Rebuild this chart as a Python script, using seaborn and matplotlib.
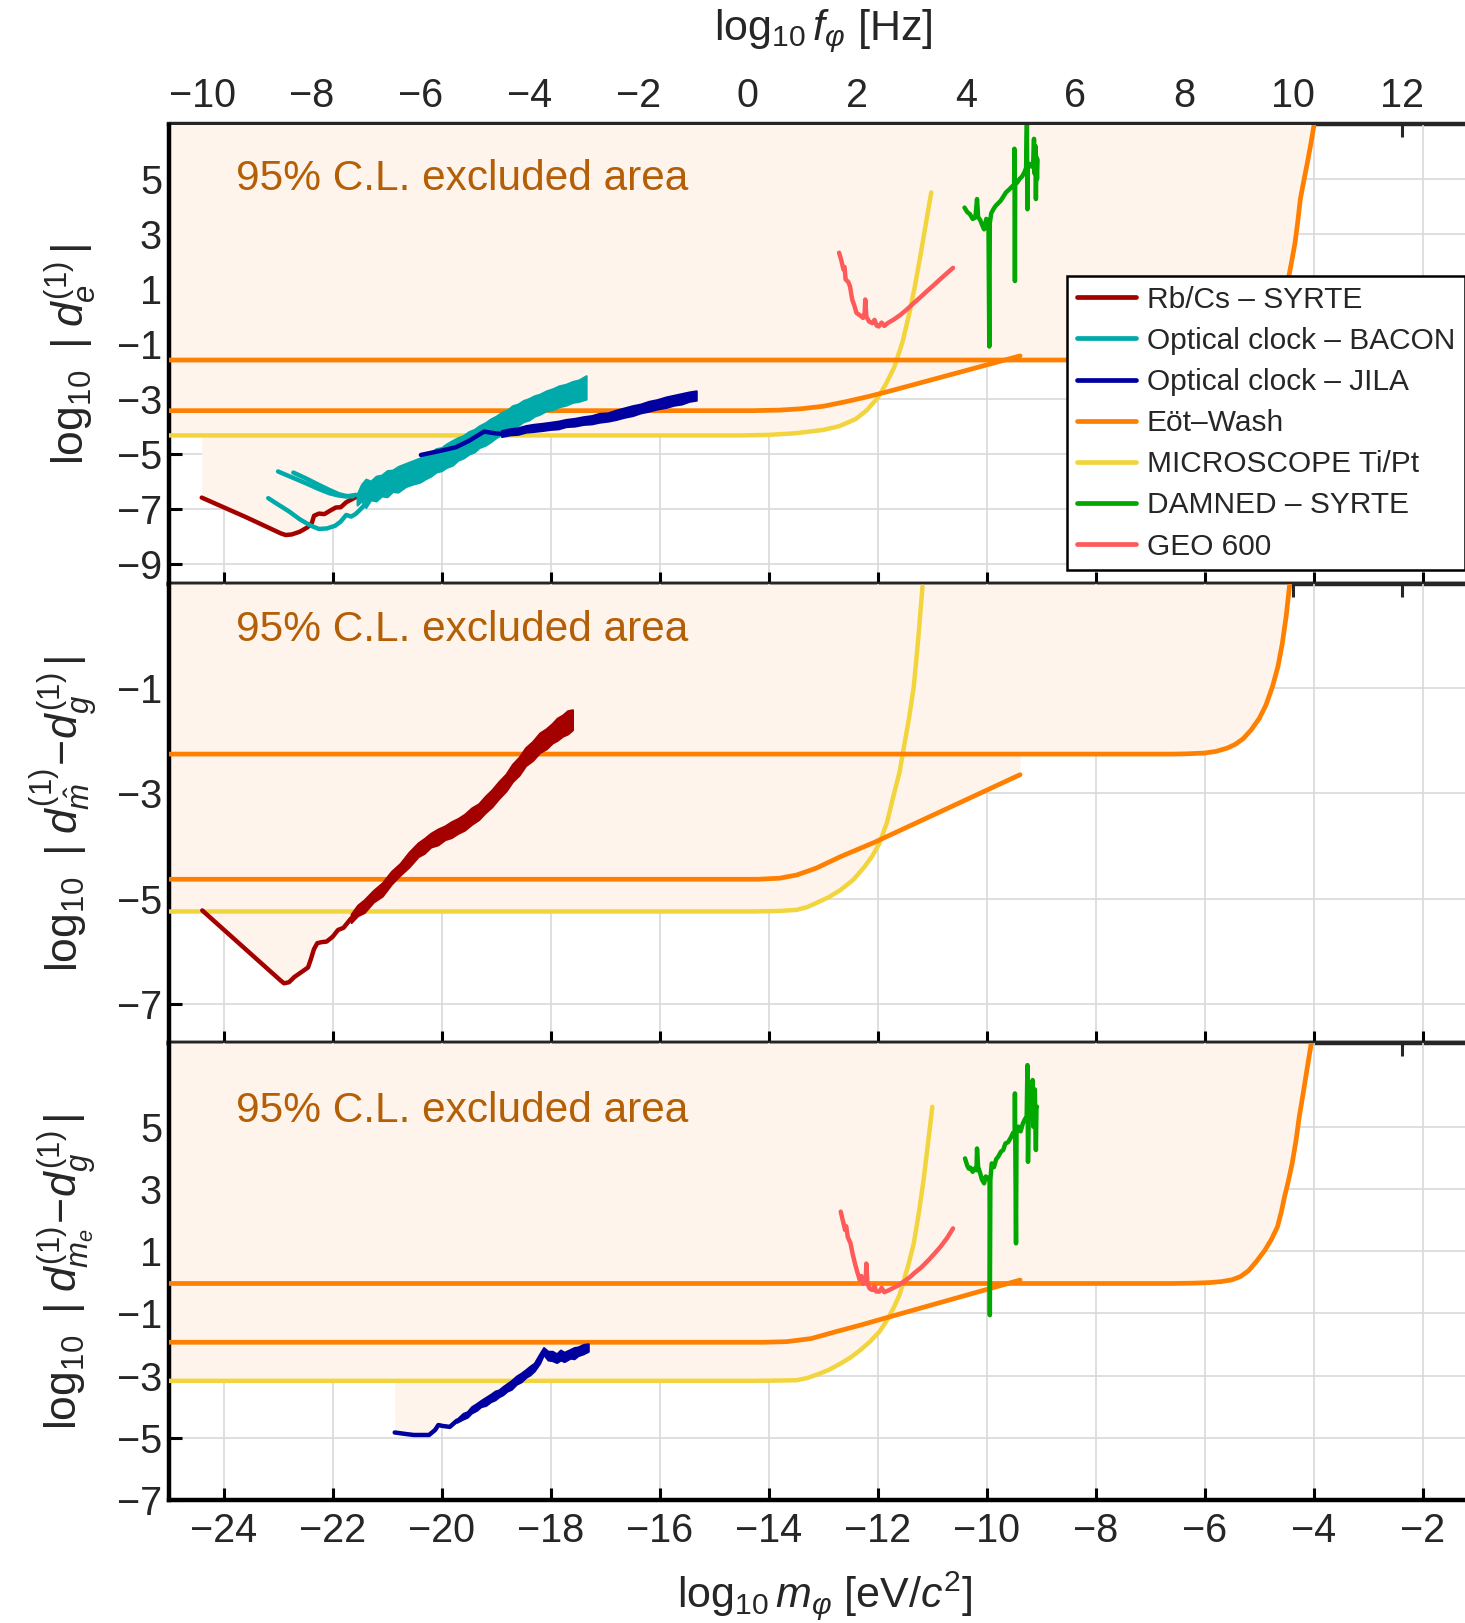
import numpy as np
import matplotlib
matplotlib.use("Agg")
import matplotlib.pyplot as plt
import seaborn as sns
from matplotlib.lines import Line2D

# ---------------------------------------------------------------------------
# Bounds on scalar dark-matter couplings: log10 |coupling| vs log10 mass [eV]
# ---------------------------------------------------------------------------

# ---- panel 1 : d_e ----
m_rbcs_e = [-24.40, -23.60, -22.95, -22.86, -22.75, -22.60, -22.46, -22.38, -22.34,
            -22.25, -22.15, -22.05, -21.94, -21.85, -21.75, -21.57, -21.39, -21.20,
            -21.08, -20.80, -20.50, -20.20]
d_rbcs_e = [-6.58, -7.28, -7.88, -7.94, -7.92, -7.82, -7.66, -7.50, -7.24,
            -7.16, -7.18, -7.06, -6.94, -6.93, -6.75, -6.56, -6.43, -6.20,
            -5.85, -5.70, -5.45, -5.25]

m_bacon_a = [-23.18, -23.00, -22.80, -22.60, -22.40, -22.25, -22.10, -21.95, -21.85,
             -21.75, -21.66, -21.58, -21.50, -21.39]
d_bacon_a = [-6.60, -6.83, -7.08, -7.37, -7.60, -7.72, -7.70, -7.60, -7.45,
             -7.21, -7.27, -7.18, -7.03, -6.80]
m_bacon_b = [-23.00, -22.75, -22.50, -22.25, -22.06, -21.90, -21.75, -21.57]
d_bacon_b = [-5.63, -5.84, -6.05, -6.27, -6.42, -6.50, -6.54, -6.48]
m_bacon_c = [-22.72, -22.50, -22.26, -22.05, -21.88, -21.75, -21.63]
d_bacon_c = [-5.67, -5.87, -6.11, -6.31, -6.46, -6.52, -6.54]
m_bacon_band = [-21.55, -21.47, -21.39, -21.30, -21.20, -21.10, -21.00, -20.90, -20.80,
                -20.66, -20.53, -20.40, -20.30, -20.20, -20.10, -20.00, -19.92, -19.80,
                -19.70, -19.60, -19.50, -19.40, -19.31, -19.20, -19.10, -19.00, -18.90,
                -18.80, -18.70, -18.60, -18.50, -18.40, -18.30, -18.20, -18.08, -17.96,
                -17.85, -17.72, -17.60, -17.48, -17.35]
d_bacon_lo = [-6.85, -6.70, -6.94, -6.66, -6.70, -6.52, -6.55, -6.36, -6.38,
              -6.18, -6.09, -6.02, -5.90, -5.80, -5.65, -5.60, -5.49, -5.40,
              -5.22, -5.14, -5.00, -4.92, -4.76, -4.68, -4.55, -4.40, -4.28,
              -4.18, -4.03, -3.96, -3.82, -3.76, -3.62, -3.55, -3.42, -3.38,
              -3.28, -3.22, -3.12, -3.08, -3.00]
d_bacon_hi = [-6.45, -6.10, -5.91, -5.98, -5.80, -5.76, -5.60, -5.58, -5.45,
              -5.34, -5.24, -5.14, -5.00, -4.94, -4.80, -4.76, -4.64, -4.50,
              -4.40, -4.32, -4.18, -4.10, -3.97, -3.86, -3.72, -3.62, -3.48,
              -3.40, -3.24, -3.18, -3.05, -2.98, -2.88, -2.82, -2.70, -2.62,
              -2.52, -2.46, -2.36, -2.30, -2.15]

m_jila_e = [-20.38, -20.00, -19.74, -19.50, -19.22, -19.00, -18.90]
d_jila_e = [-5.03, -4.87, -4.75, -4.52, -4.18, -4.25, -4.26]
m_jila_e_band = [-18.90, -18.75, -18.60, -18.45, -18.33, -18.15, -18.00, -17.86, -17.72,
                 -17.56, -17.40, -17.25, -17.11, -16.95, -16.80, -16.65, -16.50, -16.35,
                 -16.20, -16.05, -15.88, -15.74, -15.60, -15.46, -15.33]
d_jila_e_lo = [-4.36, -4.30, -4.28, -4.20, -4.18, -4.14, -4.10, -4.08, -4.00,
               -3.98, -3.92, -3.90, -3.84, -3.80, -3.74, -3.66, -3.60, -3.50,
               -3.44, -3.36, -3.30, -3.22, -3.18, -3.08, -3.04]
d_jila_e_hi = [-4.14, -4.08, -4.04, -3.96, -3.92, -3.88, -3.84, -3.80, -3.74,
               -3.70, -3.64, -3.60, -3.52, -3.50, -3.40, -3.32, -3.24, -3.18,
               -3.08, -3.02, -2.92, -2.86, -2.80, -2.74, -2.70]

m_eot_lo_e = [-25.0, -14.3, -13.8, -13.4, -13.0, -12.6, -12.2, -11.8, -9.39]
d_eot_lo_e = [-3.42, -3.42, -3.40, -3.35, -3.26, -3.10, -2.92, -2.72, -1.43]
m_eot_hi_e = [-25.0, -6.6, -6.2, -5.9, -5.6, -5.4, -5.2, -5.05, -4.92, -4.80, -4.70,
              -4.60, -4.52, -4.46, -4.40, -4.35, -4.30, -4.25, -4.18, -4.12, -4.06,
              -4.00, -3.90]
d_eot_hi_e = [-1.58, -1.58, -1.57, -1.55, -1.49, -1.40, -1.22, -1.00, -0.70, -0.30,
              0.10, 0.60, 1.05, 1.47, 2.10, 2.65, 3.40, 4.27, 5.00, 5.60, 6.25,
              6.95, 8.20]

m_micro_e = [-25.0, -14.5, -14.0, -13.5, -13.0, -12.7, -12.4, -12.2, -12.0, -11.85,
             -11.7, -11.55, -11.42, -11.32, -11.22, -11.12, -11.02]
d_micro_e = [-4.32, -4.32, -4.30, -4.24, -4.12, -3.98, -3.72, -3.40, -2.95, -2.45,
             -1.85, -0.95, 0.13, 1.10, 2.20, 3.35, 4.51]

m_geo_e = [-12.71, -12.67, -12.63, -12.61, -12.59, -12.54, -12.51, -12.47, -12.43, -12.39,
           -12.33, -12.27, -12.24, -12.23, -12.21, -12.16, -12.10, -12.06, -12.02, -11.98,
           -11.93, -11.88, -11.82, -11.70, -11.58, -11.46, -11.34, -11.22, -11.10, -10.98,
           -10.86, -10.74, -10.62]
d_geo_e = [2.32, 2.05, 1.71, 1.80, 1.35, 1.25, 1.10, 0.62, 0.40, 0.13,
           0.05, -0.05, 0.15, 0.62, 0.00, -0.18, -0.24, -0.12, -0.33, -0.36,
           -0.22, -0.34, -0.24, -0.10, 0.07, 0.27, 0.49, 0.70, 0.92, 1.13,
           1.35, 1.56, 1.77]

m_damned_e = [-10.41, -10.36, -10.31, -10.26, -10.21, -10.18, -10.16, -10.12, -10.08,
              -10.05, -10.01, -9.97, -9.955, -9.945, -9.92, -9.88, -9.84, -9.80, -9.75,
              -9.70, -9.65, -9.60, -9.55, -9.50, -9.495, -9.49, -9.485, -9.48, -9.44,
              -9.40, -9.35, -9.31, -9.28, -9.265, -9.26, -9.255, -9.25, -9.22, -9.18,
              -9.15, -9.135, -9.125, -9.11, -9.10, -9.09, -9.08, -9.07]
d_damned_e = [3.96, 3.80, 3.72, 3.55, 3.60, 4.27, 3.62, 3.50, 3.30,
              3.17, 3.55, 3.35, -1.09, 3.40, 3.75, 3.90, 4.02, 4.10, 4.20,
              4.35, 4.51, 4.60, 4.70, 4.80, 6.10, 4.50, 1.29, 4.80, 4.88,
              5.00, 5.10, 5.25, 5.40, 7.00, 5.30, 3.90, 5.50, 5.55, 5.45,
              5.60, 6.46, 5.20, 6.20, 4.27, 5.80, 5.00, 5.70]

# ---- panel 2 : d_mhat - d_g ----
m_rbcs_m = [-24.39, -23.60, -22.95, -22.89, -22.80, -22.70, -22.56, -22.45, -22.40,
            -22.34, -22.28, -22.20, -22.11, -22.00, -21.90, -21.80, -21.66]
d_rbcs_m = [-5.22, -5.95, -6.55, -6.60, -6.58, -6.48, -6.38, -6.30, -6.15,
            -5.95, -5.84, -5.82, -5.81, -5.72, -5.59, -5.55, -5.37]
m_rbcs_m_band = [-21.66, -21.54, -21.42, -21.25, -21.09, -20.92, -20.76, -20.60, -20.43,
                 -20.32, -20.20, -20.07, -19.94, -19.82, -19.70, -19.58, -19.45, -19.32,
                 -19.20, -19.08, -18.95, -18.82, -18.70, -18.58, -18.46, -18.33, -18.20,
                 -18.08, -17.97, -17.88, -17.78, -17.69, -17.60]
d_rbcs_m_lo = [-5.45, -5.32, -5.26, -5.06, -4.95, -4.72, -4.55, -4.40, -4.20,
               -4.14, -4.02, -3.98, -3.88, -3.84, -3.76, -3.70, -3.59, -3.50,
               -3.37, -3.26, -3.10, -2.96, -2.78, -2.66, -2.48, -2.38, -2.23,
               -2.16, -2.05, -2.00, -1.92, -1.88, -1.80]
d_rbcs_m_hi = [-5.29, -5.12, -5.02, -4.84, -4.70, -4.48, -4.33, -4.12, -3.94,
               -3.86, -3.76, -3.68, -3.62, -3.54, -3.48, -3.40, -3.28, -3.20,
               -3.06, -2.94, -2.78, -2.64, -2.45, -2.32, -2.14, -2.02, -1.86,
               -1.78, -1.68, -1.58, -1.52, -1.44, -1.42]

m_eot_lo_m = [-25.0, -14.2, -13.8, -13.49, -13.13, -12.68, -12.06, -9.39]
d_eot_lo_m = [-4.63, -4.63, -4.61, -4.55, -4.42, -4.20, -3.93, -2.65]
m_eot_hi_m = [-25.0, -6.6, -6.33, -6.0, -5.8, -5.6, -5.45, -5.3, -5.15, -5.0, -4.88,
              -4.76, -4.66, -4.58, -4.51, -4.45, -4.38]
d_eot_hi_m = [-2.26, -2.26, -2.255, -2.24, -2.21, -2.15, -2.08, -1.97, -1.80, -1.58,
              -1.33, -0.98, -0.60, -0.16, 0.35, 0.91, 1.60]
m_micro_m = [-25.0, -14.3, -13.8, -13.49, -13.3, -13.13, -12.9, -12.68, -12.45, -12.24,
             -12.1, -11.97, -11.83, -11.7, -11.6, -11.52, -11.43, -11.34, -11.26, -11.18]
d_micro_m = [-5.24, -5.24, -5.23, -5.21, -5.16, -5.08, -4.97, -4.83, -4.64, -4.39,
             -4.19, -3.95, -3.55, -3.00, -2.60, -2.12, -1.60, -0.98, -0.10, 0.91]

# ---- panel 3 : d_me - d_g ----
m_jila_me = [-20.86, -20.65, -20.51, -20.23, -20.12, -20.06, -19.98, -19.85, -19.72]
d_jila_me = [-4.83, -4.88, -4.91, -4.91, -4.75, -4.59, -4.62, -4.65, -4.45]
m_jila_me_band = [-19.72, -19.61, -19.53, -19.45, -19.36, -19.28, -19.19, -19.10, -19.02,
                  -18.95, -18.88, -18.80, -18.72, -18.63, -18.54, -18.45, -18.38, -18.30,
                  -18.20, -18.13, -18.05, -17.97, -17.89, -17.82, -17.75, -17.64, -17.57,
                  -17.50, -17.40, -17.31]
d_jila_me_lo = [-4.50, -4.40, -4.34, -4.20, -4.12, -4.00, -3.96, -3.84, -3.78,
                -3.68, -3.62, -3.50, -3.44, -3.28, -3.20, -3.05, -2.98, -2.85,
                -2.60, -2.32, -2.50, -2.52, -2.58, -2.50, -2.55, -2.44, -2.46,
                -2.36, -2.30, -2.22]
d_jila_me_hi = [-4.40, -4.22, -4.16, -4.00, -3.90, -3.80, -3.70, -3.60, -3.50,
                -3.46, -3.36, -3.26, -3.16, -3.02, -2.92, -2.80, -2.70, -2.60,
                -2.30, -2.10, -2.22, -2.22, -2.30, -2.18, -2.25, -2.16, -2.10,
                -2.08, -2.00, -1.98]

m_eot_lo_me = [-25.0, -14.1, -13.67, -13.22, -12.77, -12.32, -11.88, -9.39]
d_eot_lo_me = [-1.93, -1.93, -1.91, -1.81, -1.59, -1.38, -1.16, 0.07]
m_eot_hi_me = [-25.0, -6.6, -6.2, -5.9, -5.7, -5.5, -5.35, -5.2, -5.05, -4.9, -4.78,
               -4.67, -4.60, -4.54, -4.47, -4.40, -4.33, -4.27, -4.20, -4.13, -4.05,
               -3.98]
d_eot_hi_me = [-0.04, -0.04, -0.03, -0.01, 0.02, 0.08, 0.18, 0.37, 0.68, 1.03, 1.38,
               1.78, 2.25, 2.75, 3.25, 3.82, 4.55, 5.32, 6.05, 6.82, 7.68,
               8.50]
m_micro_me = [-25.0, -14.3, -13.8, -13.49, -13.3, -13.13, -12.9, -12.68, -12.5, -12.32,
              -12.15, -11.97, -11.83, -11.7, -11.6, -11.52, -11.43, -11.34, -11.25,
              -11.16, -11.08, -11.0]
d_micro_me = [-3.17, -3.17, -3.16, -3.15, -3.08, -2.98, -2.82, -2.61, -2.42, -2.18,
              -1.92, -1.59, -1.22, -0.79, -0.40, 0.07, 0.62, 1.25, 2.20,
              3.29, 4.45, 5.64]

m_geo_me = [-12.68, -12.63, -12.60, -12.58, -12.55, -12.50, -12.46, -12.42, -12.38, -12.33,
            -12.30, -12.27, -12.22, -12.21, -12.19, -12.15, -12.10, -12.06, -12.03, -11.97,
            -11.93, -11.88, -11.79, -11.70, -11.61, -11.50, -11.40, -11.34, -11.20, -11.07,
            -10.96, -10.85, -10.73, -10.62]
d_geo_me = [2.27, 1.90, 1.68, 1.80, 1.45, 1.25, 0.90, 0.61, 0.35, 0.07,
            0.20, -0.05, 0.10, 0.60, -0.04, -0.20, -0.25, -0.12, -0.30, -0.30,
            -0.18, -0.32, -0.25, -0.17, -0.09, 0.05, 0.18, 0.28, 0.48, 0.71,
            0.92, 1.14, 1.42, 1.73]

m_damned_me = [-10.40, -10.36, -10.33, -10.30, -10.26, -10.23, -10.19, -10.18, -10.16,
               -10.13, -10.09, -10.05, -10.02, -9.98, -9.95, -9.945, -9.935, -9.91, -9.87,
               -9.83, -9.79, -9.74, -9.70, -9.66, -9.61, -9.56, -9.52, -9.49, -9.485,
               -9.48, -9.465, -9.455, -9.42, -9.38, -9.34, -9.30, -9.27, -9.255, -9.245,
               -9.23, -9.19, -9.16, -9.15, -9.12, -9.10, -9.09, -9.08]
d_damned_me = [3.98, 3.75, 3.65, 3.68, 3.55, 3.65, 3.60, 4.30, 3.70,
               3.55, 3.30, 3.18, 3.40, 3.35, 3.25, -1.06, 3.30, 3.82, 3.70,
               3.95, 4.04, 4.20, 4.25, 4.46, 4.50, 4.65, 4.80, 4.70, 6.07,
               4.90, 1.25, 4.95, 5.00, 4.85, 5.10, 5.25, 5.30, 6.98, 3.87,
               5.60, 5.50, 6.50, 5.00, 6.20, 4.25, 5.60, 5.64]

# ---- axes setup ----
x_ticks = list(range(-24, -1, 2))
f_ticks = list(range(-10, 13, 2))
y_ticks = [list(range(-9, 6, 2)), [-7, -5, -3, -1], list(range(-7, 6, 2))]
y_lims = [(-9.72, 6.98), (-7.73, 0.96), (-7.0, 7.69)]
x_lim = (-25.0, -1.23)
LOG_EV_TO_HZ = 14.383   # log10(1 eV / h in Hz)

ylabels = [r"$\mathrm{log}_{10}\;\;|\;d_e^{(1)}\,|$",
           r"$\mathrm{log}_{10}\;\;|\;d_{\hat{m}}^{(1)}\!-\!d_g^{(1)}\,|$",
           r"$\mathrm{log}_{10}\;\;|\;d_{m_e}^{(1)}\!-\!d_g^{(1)}\,|$"]

RED, CYAN, BLUE = "#A50000", "#00AAAA", "#0000A0"
ORANGE, YELLOW, GREEN, SALMON = "#FF8000", "#F2D43C", "#00A800", "#FF5A5A"
FILL, NOTE = "#FEF4EB", "#B45F06"
LW, LW_EOT = 3.2, 3.4

sns.set_theme(style="white")
plt.rcParams.update({
    "font.family": ["Liberation Sans", "DejaVu Sans"],
    "mathtext.fontset": "custom",
    "mathtext.rm": "Liberation Sans",
    "mathtext.it": "Liberation Sans:italic",
    "mathtext.bf": "Liberation Sans:bold",
    "axes.unicode_minus": True,
})

W_PX, H_PX = 1465, 1623
fig = plt.figure(figsize=(W_PX / 100, H_PX / 100), dpi=100)
left = 169 / W_PX
edges = [124.5, 584, 1043, 1500]
axes = []
for i in range(3):
    top, bot = edges[i], edges[i + 1]
    axes.append(fig.add_axes([left, 1 - bot / H_PX, 1 - left, (bot - top) / H_PX]))


def line(ax, m, d, color, lw=LW, z=3):
    sns.lineplot(x=m, y=d, ax=ax, color=color, linewidth=lw, sort=False,
                 estimator=None, legend=False, zorder=z)


def band(ax, m, lo, hi, color, z=3):
    ax.fill_between(m, lo, hi, color=color, lw=1.5, edgecolor=color, zorder=z)


def shade(ax, curves, ytop):
    grid = np.linspace(x_lim[0], x_lim[1], 6000)
    env = np.full_like(grid, np.inf)
    for m, d in curves:
        m = np.asarray(m, float)
        d = np.asarray(d, float)
        inside = (grid >= m.min()) & (grid <= m.max())
        env = np.where(inside, np.minimum(env, np.interp(grid, m, d)), env)
    ok = np.isfinite(env) & (env < ytop)
    ax.fill_between(grid, np.where(ok, env, ytop), ytop, where=ok,
                    color=FILL, lw=0, zorder=1)


ax1, ax2, ax3 = axes

# panel 1
shade(ax1, [(m_rbcs_e, d_rbcs_e), (m_bacon_a, d_bacon_a), (m_bacon_b, d_bacon_b),
            (m_bacon_c, d_bacon_c), (m_bacon_band, d_bacon_lo), (m_jila_e, d_jila_e),
            (m_jila_e_band, d_jila_e_lo), (m_eot_lo_e, d_eot_lo_e),
            (m_eot_hi_e, d_eot_hi_e), (m_micro_e, d_micro_e)], y_lims[0][1])
line(ax1, m_micro_e, d_micro_e, YELLOW)
line(ax1, m_eot_lo_e, d_eot_lo_e, ORANGE, LW_EOT)
line(ax1, m_eot_hi_e, d_eot_hi_e, ORANGE, LW_EOT)
line(ax1, m_rbcs_e, d_rbcs_e, RED)
line(ax1, m_bacon_a, d_bacon_a, CYAN)
line(ax1, m_bacon_b, d_bacon_b, CYAN)
line(ax1, m_bacon_c, d_bacon_c, CYAN)
band(ax1, m_bacon_band, d_bacon_lo, d_bacon_hi, CYAN)
line(ax1, m_jila_e, d_jila_e, BLUE, z=4)
band(ax1, m_jila_e_band, d_jila_e_lo, d_jila_e_hi, BLUE, z=4)
line(ax1, m_geo_e, d_geo_e, SALMON)
line(ax1, m_damned_e, d_damned_e, GREEN)

# panel 2
shade(ax2, [(m_rbcs_m, d_rbcs_m), (m_rbcs_m_band, d_rbcs_m_lo), (m_eot_lo_m, d_eot_lo_m),
            (m_eot_hi_m, d_eot_hi_m), (m_micro_m, d_micro_m)], y_lims[1][1])
line(ax2, m_micro_m, d_micro_m, YELLOW)
line(ax2, m_eot_lo_m, d_eot_lo_m, ORANGE, LW_EOT)
line(ax2, m_eot_hi_m, d_eot_hi_m, ORANGE, LW_EOT)
line(ax2, m_rbcs_m, d_rbcs_m, RED, z=4)
band(ax2, m_rbcs_m_band, d_rbcs_m_lo, d_rbcs_m_hi, RED, z=4)

# panel 3
shade(ax3, [(m_jila_me, d_jila_me), (m_jila_me_band, d_jila_me_lo),
            (m_eot_lo_me, d_eot_lo_me), (m_eot_hi_me, d_eot_hi_me),
            (m_micro_me, d_micro_me)], y_lims[2][1])
line(ax3, m_micro_me, d_micro_me, YELLOW)
line(ax3, m_eot_lo_me, d_eot_lo_me, ORANGE, LW_EOT)
line(ax3, m_eot_hi_me, d_eot_hi_me, ORANGE, LW_EOT)
line(ax3, m_jila_me, d_jila_me, BLUE, z=4)
band(ax3, m_jila_me_band, d_jila_me_lo, d_jila_me_hi, BLUE, z=4)
line(ax3, m_geo_me, d_geo_me, SALMON)
line(ax3, m_damned_me, d_damned_me, GREEN)

note_y = [0.857, 0.876, 0.828]
label_x = [-0.0756, -0.081, -0.078]
TICK_FS = 28.5
for i, ax in enumerate(axes):
    ax.set_xlim(*x_lim)
    ax.set_ylim(*y_lims[i])
    ax.set_xticks(x_ticks)
    ax.set_yticks(y_ticks[i])
    ax.set_axisbelow(True)
    ax.grid(True, color="#d9d9d9", lw=1.2, zorder=0)
    ax.set_xlabel("")
    ax.set_ylabel("")
    for s in ("left", "bottom"):
        ax.spines[s].set_linewidth(3.2)
        ax.spines[s].set_color("black")
    ax.spines["right"].set_visible(False)
    ax.spines["top"].set_visible(False)
    ax.tick_params(axis="both", direction="in", length=9, width=2.2, color="black",
                   labelsize=TICK_FS, top=False, right=False, left=True, bottom=True)
    ax.tick_params(axis="y", pad=5)
    ax.tick_params(axis="x", pad=8.5, labelbottom=(i == 2))
    sec = ax.secondary_xaxis("top", functions=(lambda m: m + LOG_EV_TO_HZ,
                                               lambda f: f - LOG_EV_TO_HZ))
    sec.set_xticks(f_ticks)
    sec.spines["top"].set_linewidth(3.2)
    sec.tick_params(direction="in", length=9, width=2.2, labelsize=TICK_FS, pad=7,
                    labeltop=(i == 0))
    ax.text(0.052, note_y[i], "95% C.L. excluded area", transform=ax.transAxes,
            fontsize=30.5, color=NOTE, ha="left", va="baseline", zorder=6)
    ax.text(label_x[i], 0.5, ylabels[i], transform=ax.transAxes, rotation=90,
            fontsize=32, ha="center", va="center")

legend_items = [("Rb/Cs \u2013 SYRTE", RED), ("Optical clock \u2013 BACON", CYAN),
                ("Optical clock \u2013 JILA", BLUE), ("E\u00f6t\u2013Wash", ORANGE),
                ("MICROSCOPE Ti/Pt", YELLOW), ("DAMNED \u2013 SYRTE", GREEN),
                ("GEO 600", SALMON)]
handles = [Line2D([], [], color=c, lw=3.4) for _, c in legend_items]
leg = ax1.legend(handles, [t for t, _ in legend_items], loc="upper left",
                 bbox_to_anchor=(0.693, 0.670), fontsize=21.5, frameon=True,
                 fancybox=False, edgecolor="black", framealpha=1, borderaxespad=0,
                 handlelength=2.0, handletextpad=0.35, labelspacing=0.44, borderpad=0.32)
leg.get_frame().set_linewidth(1.8)
leg.set_zorder(10)

fig.text(823 / W_PX, 1 - 31 / H_PX, r"$\mathrm{log}_{10}\,f_{\varphi}$ [Hz]",
         fontsize=31, ha="center", va="center")
fig.text(825 / W_PX, 1 - 1596 / H_PX, r"$\mathrm{log}_{10}\,m_{\varphi}$ [eV/$c^2$]",
         fontsize=31, ha="center", va="center")

fig.savefig("out.png", dpi=100)
